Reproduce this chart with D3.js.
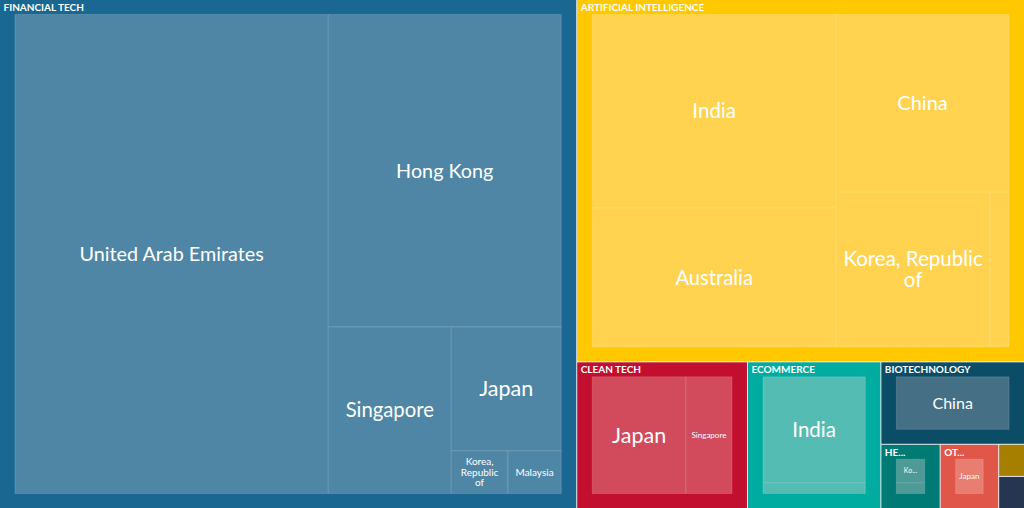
<!DOCTYPE html>
<html>
<head>
<meta charset="utf-8">
<script src="https://cdnjs.cloudflare.com/ajax/libs/d3/7.8.5/d3.min.js"></script>
<style>
  html, body { margin: 0; padding: 0; background: #fff; }
  svg { display: block; background: #eee; }
  text { font-family: Lato, sans-serif; fill: #fff; }
</style>
</head>
<body>
<div id="chart"></div>
<script>
// Sector names as shown (blank where the box is too small for a label)
const categories = ["FINANCIAL TECH", "ARTIFICIAL INTELLIGENCE", "CLEAN TECH", "ECOMMERCE", "BIOTECHNOLOGY", "HE...", "OT...", "", ""];

// Countries and estimated values, one pair of lists per sector
const financialCountries = ["United Arab Emirates", "Hong Kong", "Singapore", "Japan", "Korea, Republic of", "Malaysia"];
const financialValues = [32.3, 15.67, 4.41, 2.93, 0.52, 0.49];
const aiCountries = ["India", "Australia", "China", "Korea, Republic of", ""];
const aiValues = [10.6, 7.6, 6.9, 5.34, 0.66];
const cleanCountries = ["Japan", "Singapore"];
const cleanValues = [3.22, 1.58];
const ecommerceCountries = ["India", ""];
const ecommerceValues = [3.40, 0.35];
const biotechCountries = ["China"];
const biotechValues = [2.27];
const healthCountries = ["Ko...", ""];
const healthValues = [0.50, 0.23];
const otherCountries = ["Japan"];
const otherValues = [0.72];
const smallACountries = [""];
const smallAValues = [0.159];
const smallBCountries = [""];
const smallBValues = [0.159];

const sectorCountries = [financialCountries, aiCountries, cleanCountries, ecommerceCountries, biotechCountries, healthCountries, otherCountries, smallACountries, smallBCountries];
const sectorValues = [financialValues, aiValues, cleanValues, ecommerceValues, biotechValues, healthValues, otherValues, smallAValues, smallBValues];

const sectorColors = ["#1a6791", "#ffc800", "#c30f2f", "#00ab9f", "#0b4d66", "#007a75", "#e0574a", "#a67f00", "#263650"];
const leafColors = ["#5086a5", "#ffd350", "#d14b5c", "#55bcb4", "#456f85", "#4d9a96", "#e87d72", "#a67f00", "#263650"];

// Label font size by sector and country index
const labelSizes = [
    [19.8, 19.8, 20.3, 21.5, 10, 10],
    [20.5, 20.2, 20, 20.5, 10],
    [21.5, 8],
    [20.5, 8],
    [16],
    [7, 7],
    [8],
    [8],
    [8]
];

const width = 1024, height = 508;

const root = d3.hierarchy({
    children: categories.map((name, i) => ({
        name,
        sector: i,
        children: sectorCountries[i].map((c, j) => ({ name: c, sector: i, index: j, value: sectorValues[i][j] }))
    }))
}).sum(d => d.value || 0);

d3.treemap()
    .tile(d3.treemapBinary)
    .size([width, height])
    .paddingInner(d => d.depth === 0 ? 1 : 0)
    .paddingTop(d => d.depth === 1 ? 14.5 : 0)
    .paddingBottom(d => d.depth === 1 ? 14.5 : 0)
    .paddingLeft(d => d.depth === 1 ? 15 : 0)
    .paddingRight(d => d.depth === 1 ? 15 : 0)(root);

const svg = d3.select("#chart").append("svg")
    .attr("width", width)
    .attr("height", height);

// Sector boxes
svg.append("g").selectAll("rect")
    .data(root.children)
    .join("rect")
    .attr("x", d => d.x0)
    .attr("y", d => d.y0)
    .attr("width", d => d.x1 - d.x0)
    .attr("height", d => d.y1 - d.y0)
    .attr("fill", d => sectorColors[d.data.sector]);

// Country boxes
svg.append("g").selectAll("rect")
    .data(root.leaves().filter(d => d.x1 > d.x0 && d.y1 > d.y0))
    .join("rect")
    .attr("x", d => d.x0)
    .attr("y", d => d.y0)
    .attr("width", d => d.x1 - d.x0)
    .attr("height", d => d.y1 - d.y0)
    .attr("fill", d => leafColors[d.data.sector])
    .attr("stroke", "#fff")
    .attr("stroke-opacity", 0.15)
    .attr("stroke-width", 1);

// Sector titles
svg.append("g").selectAll("text")
    .data(root.children.filter(d => d.data.name))
    .join("text")
    .attr("x", d => d.x0 + 3.5)
    .attr("y", d => d.y0 + 11)
    .attr("font-size", 10)
    .attr("font-weight", 700)
    .text(d => d.data.name);

// Country labels, wrapped to the box width
svg.append("g").selectAll("text")
    .data(root.leaves().filter(d => d.data.name))
    .join("text")
    .attr("text-anchor", "middle")
    .attr("font-size", d => labelSizes[d.data.sector][d.data.index])
    .each(function(d) {
        const size = labelSizes[d.data.sector][d.data.index];
        const el = d3.select(this);
        const maxWidth = d.x1 - d.x0 - 10;
        const lines = [];
        let line = "";
        d.data.name.split(" ").forEach(word => {
            const next = line ? line + " " + word : word;
            el.text(next);
            if (line && this.getComputedTextLength() > maxWidth) {
                lines.push(line);
                line = word;
            } else {
                line = next;
            }
        });
        lines.push(line);
        el.text(null);
        const cx = (d.x0 + d.x1) / 2;
        const cy = (d.y0 + d.y1) / 2;
        const lh = size * 1.04;
        lines.forEach((l, i) => {
            el.append("tspan")
                .attr("x", cx)
                .attr("y", cy + (i - (lines.length - 1) / 2) * lh + size * 0.35)
                .text(l);
        });
    });
</script>
</body>
</html>
